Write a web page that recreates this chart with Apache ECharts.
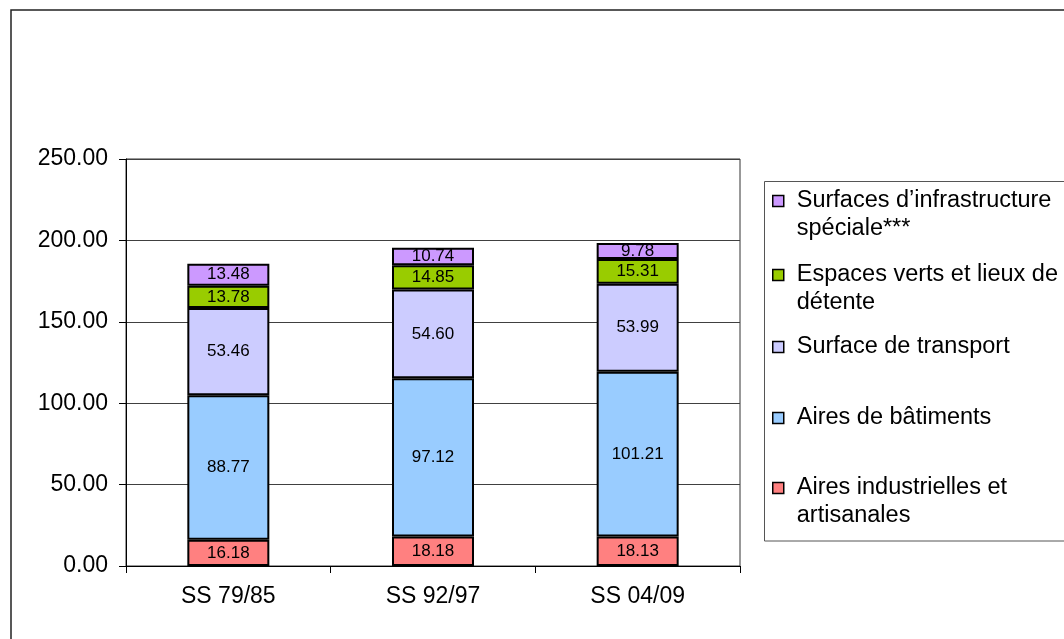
<!DOCTYPE html>
<html>
<head>
<meta charset="utf-8">
<script src="https://cdn.jsdelivr.net/npm/echarts@6/dist/echarts.min.js"></script>
<style>
html,body{margin:0;padding:0;background:#fff;}
#chart{width:1064px;height:639px;}
</style>
</head>
<body>
<div id="chart"></div>
<script>
const categories = ['SS 79/85', 'SS 92/97', 'SS 04/09'];
const industrielles = [16.18, 18.18, 18.13];
const batiments = [88.77, 97.12, 101.21];
const transport = [53.46, 54.60, 53.99];
const espacesVerts = [13.78, 14.85, 15.31];
const infraSpeciale = [13.48, 10.74, 9.78];
const yTicks = [0, 50, 100, 150, 200, 250];

const names = {
  ind: 'Aires industrielles et artisanales',
  bat: 'Aires de bâtiments',
  tra: 'Surface de transport',
  ver: 'Espaces verts et lieux de détente',
  inf: 'Surfaces d’infrastructure spéciale***'
};
const legendText = {};
legendText[names.inf] = ' \nSurfaces d’infrastructure\nspéciale***';
legendText[names.ver] = ' \nEspaces verts et lieux de\ndétente';
legendText[names.tra] = 'Surface de transport';
legendText[names.bat] = 'Aires de bâtiments';
legendText[names.ind] = ' \nAires industrielles et\nartisanales';

const FONT = 'Liberation Sans, Arial, sans-serif';

function mkSeries(name, data, color) {
  return {
    name: name, type: 'bar', stack: 'total', data: data, barWidth: 82,
    itemStyle: { color: color, borderColor: '#000', borderWidth: 2 },
    label: {
      show: true, position: 'inside', color: '#000', fontSize: 17, fontFamily: FONT,
      formatter: p => Number(p.value).toFixed(2)
    },
    emphasis: { disabled: true }
  };
}

function mkLegend(name, top) {
  return {
    data: [name], left: 772, top: top, orient: 'vertical', padding: 0,
    itemWidth: 11, itemHeight: 11, icon: 'rect', selectedMode: false,
    itemStyle: { borderColor: '#000', borderWidth: 1.5 },
    formatter: n => legendText[n],
    textStyle: {
      fontSize: 23.5, fontFamily: FONT, color: '#000', lineHeight: 28,
      padding: [0, 0, 0, 8]
    }
  };
}

const chart = echarts.init(document.getElementById('chart'));
chart.setOption({
  backgroundColor: '#fff',
  animation: false,
  textStyle: { fontFamily: FONT },
  grid: { left: 126, right: 324, top: 159, bottom: 73, show: true, borderColor: '#333', borderWidth: 1 },
  xAxis: {
    type: 'category', data: categories,
    axisLine: { lineStyle: { color: '#000', width: 1 } },
    axisTick: { show: true, length: 7, lineStyle: { color: '#000' } },
    axisLabel: { color: '#000', fontSize: 23, fontFamily: FONT, margin: 19 }
  },
  yAxis: {
    type: 'value', min: yTicks[0], max: yTicks[yTicks.length - 1], interval: 50,
    axisLine: { show: true, lineStyle: { color: '#000', width: 1 } },
    axisTick: { show: true, length: 7, lineStyle: { color: '#000' } },
    axisLabel: { color: '#000', fontSize: 23, fontFamily: FONT, margin: 18, formatter: v => v.toFixed(2) },
    splitLine: { show: true, lineStyle: { color: '#404040', width: 1 } }
  },
  legend: [
    mkLegend(names.inf, 159),
    mkLegend(names.ver, 233),
    mkLegend(names.tra, 333),
    mkLegend(names.bat, 404),
    mkLegend(names.ind, 446)
  ],
  graphic: [
    { type: 'rect', shape: { x: 11, y: 10, width: 1100, height: 700 }, style: { fill: 'none', stroke: '#222', lineWidth: 1.5 }, silent: true, z: -1 },
    { type: 'rect', shape: { x: 764.5, y: 181.5, width: 400, height: 359.5 }, style: { fill: 'none', stroke: '#555', lineWidth: 1 }, silent: true, z: -1 }
  ],
  series: [
    mkSeries(names.ind, industrielles, '#FF8080'),
    mkSeries(names.bat, batiments, '#99CCFF'),
    mkSeries(names.tra, transport, '#CCCCFF'),
    mkSeries(names.ver, espacesVerts, '#99CC00'),
    mkSeries(names.inf, infraSpeciale, '#CC99FF')
  ]
});
</script>
</body>
</html>
